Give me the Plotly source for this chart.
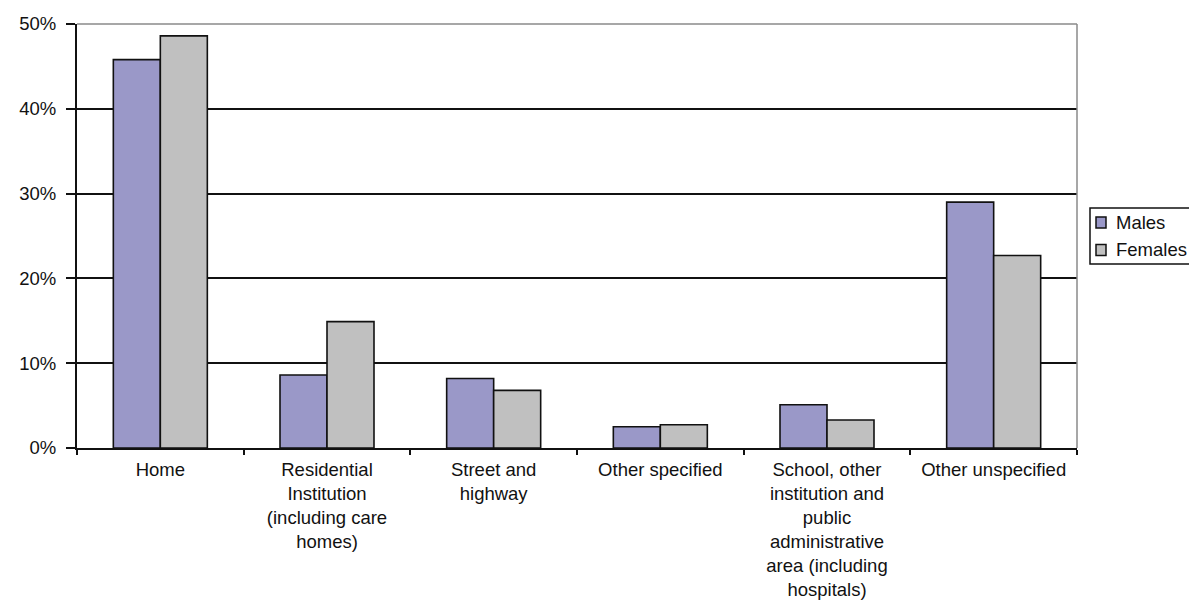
import plotly.graph_objects as go

# Place of occurrence categories and share of cases by sex
categories = [
    "Home",
    "Residential<br>Institution<br>(including care<br>homes)",
    "Street and<br>highway",
    "Other specified",
    "School, other<br>institution and<br>public<br>administrative<br>area (including<br>hospitals)",
    "Other unspecified",
]
series_names = ["Males", "Females"]
males = [0.458, 0.086, 0.082, 0.025, 0.051, 0.290]
females = [0.486, 0.149, 0.068, 0.0275, 0.033, 0.227]
y_ticks = [0.0, 0.1, 0.2, 0.3, 0.4, 0.5]

FONT = "Liberation Sans, Arial, sans-serif"
TEXT = "#111111"
OUTLINE = "#111111"
COLORS = ["#9a98c8", "#c0c0c0"]

fig = go.Figure()
for name, values, color in zip(series_names, [males, females], COLORS):
    fig.add_trace(go.Bar(
        name=name, x=categories, y=values,
        marker=dict(color=color, line=dict(color=OUTLINE, width=1.6)),
        showlegend=False,
    ))

fig.update_layout(
    width=1189, height=608,
    margin=dict(l=77, r=112, t=24, b=160, autoexpand=False),
    paper_bgcolor="white", plot_bgcolor="white",
    barmode="group", bargap=0.436, bargroupgap=0,
    font=dict(family=FONT, size=18.5, color=TEXT),
    showlegend=False,
)

fig.update_xaxes(
    showline=True, linecolor=OUTLINE, linewidth=2,
    ticks="outside", ticklen=5, tickwidth=1.5, tickcolor=OUTLINE,
    tickson="boundaries", showgrid=False,
    tickfont=dict(family=FONT, size=18.5, color=TEXT),
    ticklabelstandoff=4,
)
fig.update_yaxes(
    range=[0, 0.5], tickvals=y_ticks, tickformat=".0%",
    showline=True, linecolor=OUTLINE, linewidth=2,
    ticks="outside", ticklen=9, tickwidth=1.5, tickcolor=OUTLINE,
    showgrid=True, gridcolor=OUTLINE, gridwidth=1.5,
    zeroline=False,
    tickfont=dict(family=FONT, size=18.5, color=TEXT),
    ticklabelstandoff=6,
)

# grey frame along the top and right edges of the plotting area
fig.add_shape(type="line", xref="paper", yref="paper", x0=0, x1=1, y0=1, y1=1,
              line=dict(color="#8a8a8a", width=1.5), layer="above")
fig.add_shape(type="line", xref="paper", yref="paper", x0=1, x1=1, y0=0, y1=1,
              line=dict(color="#8a8a8a", width=1.5), layer="above")

# legend box to the right of the plot, with a swatch and label per series
fig.add_shape(type="rect", xref="paper", yref="paper",
              x0=1.013, x1=1.25, y0=0.434, y1=0.566,
              line=dict(color=OUTLINE, width=1.5), fillcolor="white", layer="above")
legend_rows = [(0.532, 0.519, 0.545), (0.467, 0.454, 0.480)]
for name, color, (ty, sy0, sy1) in zip(series_names, COLORS, legend_rows):
    fig.add_shape(type="rect", xref="paper", yref="paper",
                  x0=1.019, x1=1.029, y0=sy0, y1=sy1,
                  line=dict(color=OUTLINE, width=1.5), fillcolor=color, layer="above")
    fig.add_annotation(text=name, xref="paper", yref="paper", x=1.037, y=ty,
                       xanchor="left", yanchor="middle", showarrow=False,
                       font=dict(family=FONT, size=18.5, color=TEXT))

fig.write_html("out.html")
